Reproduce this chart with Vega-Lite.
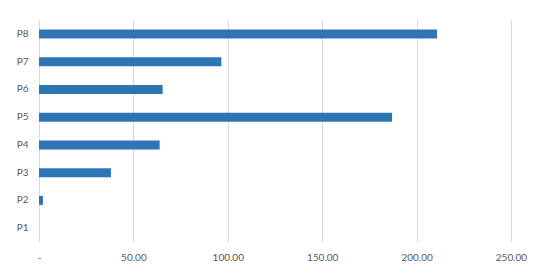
{
  "$schema": "https://vega.github.io/schema/vega-lite/v6.json",
  "autosize": {"type": "none"},
  "padding": {"left": 39, "top": 20, "right": 39, "bottom": 37},
  "width": 472,
  "height": 222,
  "background": "white",
  "data": {
    "values": [
      {"category": "P1", "value": 0},
      {"category": "P2", "value": 2.1},
      {"category": "P3", "value": 38.1},
      {"category": "P4", "value": 63.9},
      {"category": "P5", "value": 187.0},
      {"category": "P6", "value": 65.5},
      {"category": "P7", "value": 96.6},
      {"category": "P8", "value": 210.8}
    ]
  },
  "mark": {"type": "bar", "color": "#2E75B6", "size": 9},
  "encoding": {
    "y": {
      "field": "category",
      "type": "nominal",
      "sort": "descending",
      "scale": {"paddingInner": 0, "paddingOuter": 0},
      "axis": {
        "title": null,
        "domain": false,
        "ticks": false,
        "labelPadding": 11,
        "labelFont": "Lato",
        "labelFontSize": 10,
        "labelColor": "#595959",
        "grid": false
      }
    },
    "x": {
      "field": "value",
      "type": "quantitative",
      "scale": {"domain": [0, 250], "nice": false},
      "axis": {
        "title": null,
        "values": [0, 50, 100, 150, 200, 250],
        "labelExpr": "datum.value == 0 ? '-' : format(datum.value, '.2f')",
        "domain": false,
        "ticks": false,
        "grid": true,
        "gridColor": "#D9D9D9",
        "gridWidth": 1,
        "labelPadding": 10,
        "labelFont": "Lato",
        "labelFontSize": 10,
        "labelColor": "#595959",
        "labelFlush": false
      }
    }
  },
  "config": {"view": {"stroke": null}}
}
